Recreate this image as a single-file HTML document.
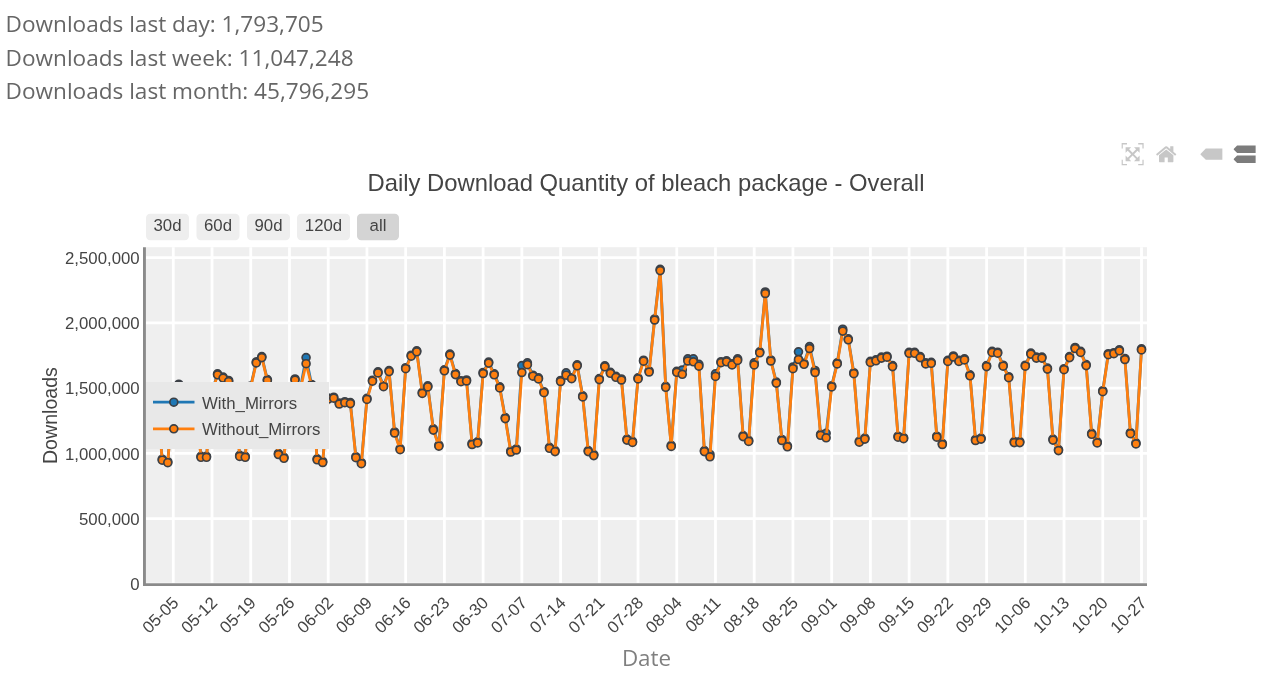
<!DOCTYPE html>
<html lang="en"><head><meta charset="utf-8"><title>Daily Download Quantity of bleach package - Overall</title>
<style>
html,body{margin:0;padding:0;background:#fff;}
body{width:1280px;height:688px;overflow:hidden;position:relative;}
svg{position:absolute;left:0;top:0;display:block;}
text{font-family:"Liberation Sans",Arial,sans-serif;fill:#444;}
.os{font-family:"Open Sans","Liberation Sans",sans-serif;}
</style></head><body>
<svg width="1280" height="688" viewBox="0 0 1280 688">
<text class="os" x="5.6" y="32.0" font-size="22.59" textLength="318.02" lengthAdjust="spacingAndGlyphs" style="fill:#666">Downloads last day: 1,793,705</text>
<text class="os" x="5.6" y="65.6" font-size="22.59" textLength="347.97" lengthAdjust="spacingAndGlyphs" style="fill:#666">Downloads last week: 11,047,248</text>
<text class="os" x="5.6" y="99.2" font-size="22.59" textLength="363.48" lengthAdjust="spacingAndGlyphs" style="fill:#666">Downloads last month: 45,796,295</text>
<rect x="146.0" y="247.2" width="1001.0" height="336.09999999999997" fill="#efefef"/>
<g stroke="#fff" stroke-width="2.8" fill="none"><path d="M173.30,247.2V583.3"/><path d="M212.03,247.2V583.3"/><path d="M250.75,247.2V583.3"/><path d="M289.48,247.2V583.3"/><path d="M328.21,247.2V583.3"/><path d="M366.94,247.2V583.3"/><path d="M405.66,247.2V583.3"/><path d="M444.39,247.2V583.3"/><path d="M483.12,247.2V583.3"/><path d="M521.85,247.2V583.3"/><path d="M560.58,247.2V583.3"/><path d="M599.30,247.2V583.3"/><path d="M638.03,247.2V583.3"/><path d="M676.76,247.2V583.3"/><path d="M715.48,247.2V583.3"/><path d="M754.21,247.2V583.3"/><path d="M792.94,247.2V583.3"/><path d="M831.67,247.2V583.3"/><path d="M870.39,247.2V583.3"/><path d="M909.12,247.2V583.3"/><path d="M947.85,247.2V583.3"/><path d="M986.58,247.2V583.3"/><path d="M1025.31,247.2V583.3"/><path d="M1064.03,247.2V583.3"/><path d="M1102.76,247.2V583.3"/><path d="M1141.49,247.2V583.3"/><path d="M146.0,518.63H1147.0"/><path d="M146.0,453.36H1147.0"/><path d="M146.0,388.09H1147.0"/><path d="M146.0,322.82H1147.0"/><path d="M146.0,257.55H1147.0"/><path d="M146.0,584.20H1147.0"/></g>
<clipPath id="pc"><rect x="146.0" y="247.2" width="1001.0" height="336.09999999999997"/></clipPath>
<g clip-path="url(#pc)"><path d="M151.17,392.50L156.70,395.50L162.24,459.20L167.77,461.70L173.30,394.50L178.83,384.20L184.37,391.50L189.90,393.50L195.43,397.50L200.96,456.30L206.50,456.30L212.03,391.50L217.56,373.80L223.09,377.10L228.62,380.50L234.16,391.50L239.69,455.40L245.22,456.30L250.75,386.00L256.29,361.90L261.82,356.60L267.35,379.60L272.88,392.50L278.42,453.50L283.95,457.30L289.48,399.50L295.01,379.00L300.55,387.50L306.08,357.60L311.61,384.50L317.14,458.80L322.68,461.50L328.21,398.00L333.74,397.20L339.27,403.00L344.81,401.70L350.34,402.60L355.87,456.70L361.40,462.70L366.94,398.40L372.47,380.20L378.00,371.90L383.53,385.70L389.07,370.60L394.60,432.00L400.13,448.70L405.66,367.70L411.20,355.20L416.73,350.80L422.26,392.40L427.79,385.90L433.33,428.90L438.86,445.20L444.39,369.80L449.93,354.10L455.46,373.60L460.99,380.70L466.52,380.00L472.06,443.50L477.59,441.90L483.12,372.50L488.65,362.10L494.19,373.80L499.72,386.90L505.25,417.60L510.78,451.00L516.32,449.00L521.85,365.60L527.38,362.90L532.91,375.20L538.44,377.90L543.98,391.70L549.51,447.30L555.04,450.60L560.58,380.50L566.11,372.90L571.64,377.70L577.17,364.80L582.70,395.90L588.24,450.60L593.77,454.60L599.30,378.60L604.84,365.80L610.37,372.30L615.90,376.30L621.43,379.00L626.96,439.10L632.50,441.40L638.03,377.90L643.56,360.20L649.10,371.00L654.63,319.00L660.16,269.30L665.69,386.30L671.22,445.40L676.76,371.30L682.29,370.00L687.82,358.90L693.36,358.90L698.89,364.30L704.42,450.60L709.95,454.50L715.48,373.90L721.02,361.70L726.55,360.80L732.08,363.90L737.62,358.90L743.15,435.60L748.68,440.40L754.21,362.90L759.74,351.80L765.28,292.00L770.81,360.00L776.34,382.10L781.88,439.50L787.41,445.80L792.94,367.00L798.47,351.80L804.00,363.30L809.54,346.60L815.07,370.50L820.60,434.30L826.13,433.30L831.67,385.90L837.20,362.90L842.73,329.20L848.26,338.80L853.80,372.70L859.33,441.20L864.86,438.10L870.39,361.40L875.93,359.80L881.46,357.10L886.99,356.20L892.53,365.60L898.06,436.20L903.59,437.70L909.12,352.30L914.65,352.30L920.19,356.60L925.72,362.90L931.25,362.30L936.79,436.20L942.32,443.50L947.85,360.40L953.38,356.00L958.91,360.40L964.45,358.90L969.98,374.80L975.51,439.50L981.05,438.10L986.58,365.60L992.11,351.40L997.64,352.20L1003.17,365.20L1008.71,376.70L1014.24,441.60L1019.77,441.60L1025.31,365.20L1030.84,353.10L1036.37,357.10L1041.90,357.10L1047.43,368.10L1052.97,439.10L1058.50,449.60L1064.03,368.70L1069.57,356.60L1075.10,347.50L1080.63,351.40L1086.16,364.60L1091.69,433.30L1097.23,441.90L1102.76,390.70L1108.29,353.70L1113.83,352.70L1119.36,349.80L1124.89,358.50L1130.42,432.70L1135.95,442.90L1141.49,348.90" fill="none" stroke="#1f77b4" stroke-width="2.8" stroke-linejoin="round"/><g fill="#1f77b4" stroke="#3c4046" stroke-width="1.7"><circle cx="151.17" cy="392.50" r="3.95"/><circle cx="156.70" cy="395.50" r="3.95"/><circle cx="162.24" cy="459.20" r="3.95"/><circle cx="167.77" cy="461.70" r="3.95"/><circle cx="173.30" cy="394.50" r="3.95"/><circle cx="178.83" cy="384.20" r="3.95"/><circle cx="184.37" cy="391.50" r="3.95"/><circle cx="189.90" cy="393.50" r="3.95"/><circle cx="195.43" cy="397.50" r="3.95"/><circle cx="200.96" cy="456.30" r="3.95"/><circle cx="206.50" cy="456.30" r="3.95"/><circle cx="212.03" cy="391.50" r="3.95"/><circle cx="217.56" cy="373.80" r="3.95"/><circle cx="223.09" cy="377.10" r="3.95"/><circle cx="228.62" cy="380.50" r="3.95"/><circle cx="234.16" cy="391.50" r="3.95"/><circle cx="239.69" cy="455.40" r="3.95"/><circle cx="245.22" cy="456.30" r="3.95"/><circle cx="250.75" cy="386.00" r="3.95"/><circle cx="256.29" cy="361.90" r="3.95"/><circle cx="261.82" cy="356.60" r="3.95"/><circle cx="267.35" cy="379.60" r="3.95"/><circle cx="272.88" cy="392.50" r="3.95"/><circle cx="278.42" cy="453.50" r="3.95"/><circle cx="283.95" cy="457.30" r="3.95"/><circle cx="289.48" cy="399.50" r="3.95"/><circle cx="295.01" cy="379.00" r="3.95"/><circle cx="300.55" cy="387.50" r="3.95"/><circle cx="306.08" cy="357.60" r="3.95"/><circle cx="311.61" cy="384.50" r="3.95"/><circle cx="317.14" cy="458.80" r="3.95"/><circle cx="322.68" cy="461.50" r="3.95"/><circle cx="328.21" cy="398.00" r="3.95"/><circle cx="333.74" cy="397.20" r="3.95"/><circle cx="339.27" cy="403.00" r="3.95"/><circle cx="344.81" cy="401.70" r="3.95"/><circle cx="350.34" cy="402.60" r="3.95"/><circle cx="355.87" cy="456.70" r="3.95"/><circle cx="361.40" cy="462.70" r="3.95"/><circle cx="366.94" cy="398.40" r="3.95"/><circle cx="372.47" cy="380.20" r="3.95"/><circle cx="378.00" cy="371.90" r="3.95"/><circle cx="383.53" cy="385.70" r="3.95"/><circle cx="389.07" cy="370.60" r="3.95"/><circle cx="394.60" cy="432.00" r="3.95"/><circle cx="400.13" cy="448.70" r="3.95"/><circle cx="405.66" cy="367.70" r="3.95"/><circle cx="411.20" cy="355.20" r="3.95"/><circle cx="416.73" cy="350.80" r="3.95"/><circle cx="422.26" cy="392.40" r="3.95"/><circle cx="427.79" cy="385.90" r="3.95"/><circle cx="433.33" cy="428.90" r="3.95"/><circle cx="438.86" cy="445.20" r="3.95"/><circle cx="444.39" cy="369.80" r="3.95"/><circle cx="449.93" cy="354.10" r="3.95"/><circle cx="455.46" cy="373.60" r="3.95"/><circle cx="460.99" cy="380.70" r="3.95"/><circle cx="466.52" cy="380.00" r="3.95"/><circle cx="472.06" cy="443.50" r="3.95"/><circle cx="477.59" cy="441.90" r="3.95"/><circle cx="483.12" cy="372.50" r="3.95"/><circle cx="488.65" cy="362.10" r="3.95"/><circle cx="494.19" cy="373.80" r="3.95"/><circle cx="499.72" cy="386.90" r="3.95"/><circle cx="505.25" cy="417.60" r="3.95"/><circle cx="510.78" cy="451.00" r="3.95"/><circle cx="516.32" cy="449.00" r="3.95"/><circle cx="521.85" cy="365.60" r="3.95"/><circle cx="527.38" cy="362.90" r="3.95"/><circle cx="532.91" cy="375.20" r="3.95"/><circle cx="538.44" cy="377.90" r="3.95"/><circle cx="543.98" cy="391.70" r="3.95"/><circle cx="549.51" cy="447.30" r="3.95"/><circle cx="555.04" cy="450.60" r="3.95"/><circle cx="560.58" cy="380.50" r="3.95"/><circle cx="566.11" cy="372.90" r="3.95"/><circle cx="571.64" cy="377.70" r="3.95"/><circle cx="577.17" cy="364.80" r="3.95"/><circle cx="582.70" cy="395.90" r="3.95"/><circle cx="588.24" cy="450.60" r="3.95"/><circle cx="593.77" cy="454.60" r="3.95"/><circle cx="599.30" cy="378.60" r="3.95"/><circle cx="604.84" cy="365.80" r="3.95"/><circle cx="610.37" cy="372.30" r="3.95"/><circle cx="615.90" cy="376.30" r="3.95"/><circle cx="621.43" cy="379.00" r="3.95"/><circle cx="626.96" cy="439.10" r="3.95"/><circle cx="632.50" cy="441.40" r="3.95"/><circle cx="638.03" cy="377.90" r="3.95"/><circle cx="643.56" cy="360.20" r="3.95"/><circle cx="649.10" cy="371.00" r="3.95"/><circle cx="654.63" cy="319.00" r="3.95"/><circle cx="660.16" cy="269.30" r="3.95"/><circle cx="665.69" cy="386.30" r="3.95"/><circle cx="671.22" cy="445.40" r="3.95"/><circle cx="676.76" cy="371.30" r="3.95"/><circle cx="682.29" cy="370.00" r="3.95"/><circle cx="687.82" cy="358.90" r="3.95"/><circle cx="693.36" cy="358.90" r="3.95"/><circle cx="698.89" cy="364.30" r="3.95"/><circle cx="704.42" cy="450.60" r="3.95"/><circle cx="709.95" cy="454.50" r="3.95"/><circle cx="715.48" cy="373.90" r="3.95"/><circle cx="721.02" cy="361.70" r="3.95"/><circle cx="726.55" cy="360.80" r="3.95"/><circle cx="732.08" cy="363.90" r="3.95"/><circle cx="737.62" cy="358.90" r="3.95"/><circle cx="743.15" cy="435.60" r="3.95"/><circle cx="748.68" cy="440.40" r="3.95"/><circle cx="754.21" cy="362.90" r="3.95"/><circle cx="759.74" cy="351.80" r="3.95"/><circle cx="765.28" cy="292.00" r="3.95"/><circle cx="770.81" cy="360.00" r="3.95"/><circle cx="776.34" cy="382.10" r="3.95"/><circle cx="781.88" cy="439.50" r="3.95"/><circle cx="787.41" cy="445.80" r="3.95"/><circle cx="792.94" cy="367.00" r="3.95"/><circle cx="798.47" cy="351.80" r="3.95"/><circle cx="804.00" cy="363.30" r="3.95"/><circle cx="809.54" cy="346.60" r="3.95"/><circle cx="815.07" cy="370.50" r="3.95"/><circle cx="820.60" cy="434.30" r="3.95"/><circle cx="826.13" cy="433.30" r="3.95"/><circle cx="831.67" cy="385.90" r="3.95"/><circle cx="837.20" cy="362.90" r="3.95"/><circle cx="842.73" cy="329.20" r="3.95"/><circle cx="848.26" cy="338.80" r="3.95"/><circle cx="853.80" cy="372.70" r="3.95"/><circle cx="859.33" cy="441.20" r="3.95"/><circle cx="864.86" cy="438.10" r="3.95"/><circle cx="870.39" cy="361.40" r="3.95"/><circle cx="875.93" cy="359.80" r="3.95"/><circle cx="881.46" cy="357.10" r="3.95"/><circle cx="886.99" cy="356.20" r="3.95"/><circle cx="892.53" cy="365.60" r="3.95"/><circle cx="898.06" cy="436.20" r="3.95"/><circle cx="903.59" cy="437.70" r="3.95"/><circle cx="909.12" cy="352.30" r="3.95"/><circle cx="914.65" cy="352.30" r="3.95"/><circle cx="920.19" cy="356.60" r="3.95"/><circle cx="925.72" cy="362.90" r="3.95"/><circle cx="931.25" cy="362.30" r="3.95"/><circle cx="936.79" cy="436.20" r="3.95"/><circle cx="942.32" cy="443.50" r="3.95"/><circle cx="947.85" cy="360.40" r="3.95"/><circle cx="953.38" cy="356.00" r="3.95"/><circle cx="958.91" cy="360.40" r="3.95"/><circle cx="964.45" cy="358.90" r="3.95"/><circle cx="969.98" cy="374.80" r="3.95"/><circle cx="975.51" cy="439.50" r="3.95"/><circle cx="981.05" cy="438.10" r="3.95"/><circle cx="986.58" cy="365.60" r="3.95"/><circle cx="992.11" cy="351.40" r="3.95"/><circle cx="997.64" cy="352.20" r="3.95"/><circle cx="1003.17" cy="365.20" r="3.95"/><circle cx="1008.71" cy="376.70" r="3.95"/><circle cx="1014.24" cy="441.60" r="3.95"/><circle cx="1019.77" cy="441.60" r="3.95"/><circle cx="1025.31" cy="365.20" r="3.95"/><circle cx="1030.84" cy="353.10" r="3.95"/><circle cx="1036.37" cy="357.10" r="3.95"/><circle cx="1041.90" cy="357.10" r="3.95"/><circle cx="1047.43" cy="368.10" r="3.95"/><circle cx="1052.97" cy="439.10" r="3.95"/><circle cx="1058.50" cy="449.60" r="3.95"/><circle cx="1064.03" cy="368.70" r="3.95"/><circle cx="1069.57" cy="356.60" r="3.95"/><circle cx="1075.10" cy="347.50" r="3.95"/><circle cx="1080.63" cy="351.40" r="3.95"/><circle cx="1086.16" cy="364.60" r="3.95"/><circle cx="1091.69" cy="433.30" r="3.95"/><circle cx="1097.23" cy="441.90" r="3.95"/><circle cx="1102.76" cy="390.70" r="3.95"/><circle cx="1108.29" cy="353.70" r="3.95"/><circle cx="1113.83" cy="352.70" r="3.95"/><circle cx="1119.36" cy="349.80" r="3.95"/><circle cx="1124.89" cy="358.50" r="3.95"/><circle cx="1130.42" cy="432.70" r="3.95"/><circle cx="1135.95" cy="442.90" r="3.95"/><circle cx="1141.49" cy="348.90" r="3.95"/></g><path d="M151.17,393.50L156.70,396.50L162.24,460.20L167.77,462.70L173.30,395.50L178.83,385.20L184.37,392.50L189.90,394.50L195.43,398.50L200.96,457.30L206.50,457.30L212.03,392.50L217.56,374.80L223.09,378.10L228.62,381.50L234.16,392.50L239.69,456.40L245.22,457.30L250.75,387.00L256.29,362.90L261.82,357.60L267.35,380.60L272.88,393.50L278.42,454.50L283.95,458.30L289.48,400.50L295.01,380.00L300.55,388.50L306.08,363.70L311.61,385.50L317.14,459.80L322.68,462.50L328.21,399.00L333.74,398.20L339.27,404.00L344.81,402.70L350.34,403.60L355.87,457.70L361.40,463.70L366.94,399.40L372.47,381.20L378.00,372.90L383.53,386.70L389.07,371.60L394.60,433.00L400.13,449.70L405.66,368.70L411.20,356.20L416.73,351.80L422.26,393.40L427.79,386.90L433.33,430.10L438.86,446.20L444.39,370.80L449.93,355.10L455.46,374.60L460.99,381.70L466.52,381.00L472.06,444.50L477.59,442.90L483.12,373.50L488.65,363.10L494.19,374.80L499.72,387.90L505.25,418.60L510.78,452.00L516.32,450.00L521.85,372.50L527.38,364.70L532.91,376.20L538.44,378.90L543.98,392.70L549.51,448.30L555.04,451.60L560.58,381.50L566.11,375.20L571.64,378.70L577.17,365.80L582.70,396.90L588.24,451.60L593.77,455.60L599.30,379.60L604.84,366.80L610.37,373.30L615.90,377.30L621.43,380.00L626.96,440.10L632.50,442.40L638.03,378.90L643.56,361.20L649.10,372.00L654.63,320.00L660.16,270.60L665.69,387.30L671.22,446.40L676.76,372.30L682.29,374.30L687.82,361.00L693.36,361.80L698.89,366.20L704.42,451.60L709.95,456.80L715.48,376.40L721.02,362.70L726.55,361.80L732.08,364.90L737.62,360.40L743.15,436.60L748.68,441.40L754.21,364.90L759.74,352.80L765.28,293.50L770.81,361.00L776.34,383.10L781.88,440.50L787.41,446.80L792.94,368.70L798.47,359.50L804.00,364.30L809.54,348.50L815.07,372.50L820.60,435.30L826.13,437.80L831.67,386.90L837.20,363.90L842.73,331.10L848.26,339.80L853.80,373.70L859.33,442.20L864.86,439.10L870.39,362.40L875.93,360.80L881.46,358.10L886.99,357.20L892.53,366.60L898.06,437.20L903.59,438.70L909.12,353.30L914.65,353.30L920.19,357.60L925.72,363.90L931.25,363.30L936.79,437.20L942.32,444.50L947.85,361.40L953.38,357.00L958.91,361.40L964.45,359.90L969.98,375.80L975.51,440.50L981.05,439.10L986.58,366.60L992.11,352.40L997.64,353.20L1003.17,366.20L1008.71,377.70L1014.24,442.60L1019.77,442.60L1025.31,366.20L1030.84,354.10L1036.37,358.10L1041.90,358.10L1047.43,369.10L1052.97,440.10L1058.50,450.60L1064.03,369.70L1069.57,357.60L1075.10,348.50L1080.63,352.40L1086.16,365.60L1091.69,434.30L1097.23,442.90L1102.76,391.70L1108.29,354.70L1113.83,353.70L1119.36,350.80L1124.89,359.50L1130.42,433.70L1135.95,443.90L1141.49,349.90" fill="none" stroke="#ff7f0e" stroke-width="2.8" stroke-linejoin="round"/><g fill="#ff7f0e" stroke="#3c4046" stroke-width="1.7"><circle cx="151.17" cy="393.50" r="3.95"/><circle cx="156.70" cy="396.50" r="3.95"/><circle cx="162.24" cy="460.20" r="3.95"/><circle cx="167.77" cy="462.70" r="3.95"/><circle cx="173.30" cy="395.50" r="3.95"/><circle cx="178.83" cy="385.20" r="3.95"/><circle cx="184.37" cy="392.50" r="3.95"/><circle cx="189.90" cy="394.50" r="3.95"/><circle cx="195.43" cy="398.50" r="3.95"/><circle cx="200.96" cy="457.30" r="3.95"/><circle cx="206.50" cy="457.30" r="3.95"/><circle cx="212.03" cy="392.50" r="3.95"/><circle cx="217.56" cy="374.80" r="3.95"/><circle cx="223.09" cy="378.10" r="3.95"/><circle cx="228.62" cy="381.50" r="3.95"/><circle cx="234.16" cy="392.50" r="3.95"/><circle cx="239.69" cy="456.40" r="3.95"/><circle cx="245.22" cy="457.30" r="3.95"/><circle cx="250.75" cy="387.00" r="3.95"/><circle cx="256.29" cy="362.90" r="3.95"/><circle cx="261.82" cy="357.60" r="3.95"/><circle cx="267.35" cy="380.60" r="3.95"/><circle cx="272.88" cy="393.50" r="3.95"/><circle cx="278.42" cy="454.50" r="3.95"/><circle cx="283.95" cy="458.30" r="3.95"/><circle cx="289.48" cy="400.50" r="3.95"/><circle cx="295.01" cy="380.00" r="3.95"/><circle cx="300.55" cy="388.50" r="3.95"/><circle cx="306.08" cy="363.70" r="3.95"/><circle cx="311.61" cy="385.50" r="3.95"/><circle cx="317.14" cy="459.80" r="3.95"/><circle cx="322.68" cy="462.50" r="3.95"/><circle cx="328.21" cy="399.00" r="3.95"/><circle cx="333.74" cy="398.20" r="3.95"/><circle cx="339.27" cy="404.00" r="3.95"/><circle cx="344.81" cy="402.70" r="3.95"/><circle cx="350.34" cy="403.60" r="3.95"/><circle cx="355.87" cy="457.70" r="3.95"/><circle cx="361.40" cy="463.70" r="3.95"/><circle cx="366.94" cy="399.40" r="3.95"/><circle cx="372.47" cy="381.20" r="3.95"/><circle cx="378.00" cy="372.90" r="3.95"/><circle cx="383.53" cy="386.70" r="3.95"/><circle cx="389.07" cy="371.60" r="3.95"/><circle cx="394.60" cy="433.00" r="3.95"/><circle cx="400.13" cy="449.70" r="3.95"/><circle cx="405.66" cy="368.70" r="3.95"/><circle cx="411.20" cy="356.20" r="3.95"/><circle cx="416.73" cy="351.80" r="3.95"/><circle cx="422.26" cy="393.40" r="3.95"/><circle cx="427.79" cy="386.90" r="3.95"/><circle cx="433.33" cy="430.10" r="3.95"/><circle cx="438.86" cy="446.20" r="3.95"/><circle cx="444.39" cy="370.80" r="3.95"/><circle cx="449.93" cy="355.10" r="3.95"/><circle cx="455.46" cy="374.60" r="3.95"/><circle cx="460.99" cy="381.70" r="3.95"/><circle cx="466.52" cy="381.00" r="3.95"/><circle cx="472.06" cy="444.50" r="3.95"/><circle cx="477.59" cy="442.90" r="3.95"/><circle cx="483.12" cy="373.50" r="3.95"/><circle cx="488.65" cy="363.10" r="3.95"/><circle cx="494.19" cy="374.80" r="3.95"/><circle cx="499.72" cy="387.90" r="3.95"/><circle cx="505.25" cy="418.60" r="3.95"/><circle cx="510.78" cy="452.00" r="3.95"/><circle cx="516.32" cy="450.00" r="3.95"/><circle cx="521.85" cy="372.50" r="3.95"/><circle cx="527.38" cy="364.70" r="3.95"/><circle cx="532.91" cy="376.20" r="3.95"/><circle cx="538.44" cy="378.90" r="3.95"/><circle cx="543.98" cy="392.70" r="3.95"/><circle cx="549.51" cy="448.30" r="3.95"/><circle cx="555.04" cy="451.60" r="3.95"/><circle cx="560.58" cy="381.50" r="3.95"/><circle cx="566.11" cy="375.20" r="3.95"/><circle cx="571.64" cy="378.70" r="3.95"/><circle cx="577.17" cy="365.80" r="3.95"/><circle cx="582.70" cy="396.90" r="3.95"/><circle cx="588.24" cy="451.60" r="3.95"/><circle cx="593.77" cy="455.60" r="3.95"/><circle cx="599.30" cy="379.60" r="3.95"/><circle cx="604.84" cy="366.80" r="3.95"/><circle cx="610.37" cy="373.30" r="3.95"/><circle cx="615.90" cy="377.30" r="3.95"/><circle cx="621.43" cy="380.00" r="3.95"/><circle cx="626.96" cy="440.10" r="3.95"/><circle cx="632.50" cy="442.40" r="3.95"/><circle cx="638.03" cy="378.90" r="3.95"/><circle cx="643.56" cy="361.20" r="3.95"/><circle cx="649.10" cy="372.00" r="3.95"/><circle cx="654.63" cy="320.00" r="3.95"/><circle cx="660.16" cy="270.60" r="3.95"/><circle cx="665.69" cy="387.30" r="3.95"/><circle cx="671.22" cy="446.40" r="3.95"/><circle cx="676.76" cy="372.30" r="3.95"/><circle cx="682.29" cy="374.30" r="3.95"/><circle cx="687.82" cy="361.00" r="3.95"/><circle cx="693.36" cy="361.80" r="3.95"/><circle cx="698.89" cy="366.20" r="3.95"/><circle cx="704.42" cy="451.60" r="3.95"/><circle cx="709.95" cy="456.80" r="3.95"/><circle cx="715.48" cy="376.40" r="3.95"/><circle cx="721.02" cy="362.70" r="3.95"/><circle cx="726.55" cy="361.80" r="3.95"/><circle cx="732.08" cy="364.90" r="3.95"/><circle cx="737.62" cy="360.40" r="3.95"/><circle cx="743.15" cy="436.60" r="3.95"/><circle cx="748.68" cy="441.40" r="3.95"/><circle cx="754.21" cy="364.90" r="3.95"/><circle cx="759.74" cy="352.80" r="3.95"/><circle cx="765.28" cy="293.50" r="3.95"/><circle cx="770.81" cy="361.00" r="3.95"/><circle cx="776.34" cy="383.10" r="3.95"/><circle cx="781.88" cy="440.50" r="3.95"/><circle cx="787.41" cy="446.80" r="3.95"/><circle cx="792.94" cy="368.70" r="3.95"/><circle cx="798.47" cy="359.50" r="3.95"/><circle cx="804.00" cy="364.30" r="3.95"/><circle cx="809.54" cy="348.50" r="3.95"/><circle cx="815.07" cy="372.50" r="3.95"/><circle cx="820.60" cy="435.30" r="3.95"/><circle cx="826.13" cy="437.80" r="3.95"/><circle cx="831.67" cy="386.90" r="3.95"/><circle cx="837.20" cy="363.90" r="3.95"/><circle cx="842.73" cy="331.10" r="3.95"/><circle cx="848.26" cy="339.80" r="3.95"/><circle cx="853.80" cy="373.70" r="3.95"/><circle cx="859.33" cy="442.20" r="3.95"/><circle cx="864.86" cy="439.10" r="3.95"/><circle cx="870.39" cy="362.40" r="3.95"/><circle cx="875.93" cy="360.80" r="3.95"/><circle cx="881.46" cy="358.10" r="3.95"/><circle cx="886.99" cy="357.20" r="3.95"/><circle cx="892.53" cy="366.60" r="3.95"/><circle cx="898.06" cy="437.20" r="3.95"/><circle cx="903.59" cy="438.70" r="3.95"/><circle cx="909.12" cy="353.30" r="3.95"/><circle cx="914.65" cy="353.30" r="3.95"/><circle cx="920.19" cy="357.60" r="3.95"/><circle cx="925.72" cy="363.90" r="3.95"/><circle cx="931.25" cy="363.30" r="3.95"/><circle cx="936.79" cy="437.20" r="3.95"/><circle cx="942.32" cy="444.50" r="3.95"/><circle cx="947.85" cy="361.40" r="3.95"/><circle cx="953.38" cy="357.00" r="3.95"/><circle cx="958.91" cy="361.40" r="3.95"/><circle cx="964.45" cy="359.90" r="3.95"/><circle cx="969.98" cy="375.80" r="3.95"/><circle cx="975.51" cy="440.50" r="3.95"/><circle cx="981.05" cy="439.10" r="3.95"/><circle cx="986.58" cy="366.60" r="3.95"/><circle cx="992.11" cy="352.40" r="3.95"/><circle cx="997.64" cy="353.20" r="3.95"/><circle cx="1003.17" cy="366.20" r="3.95"/><circle cx="1008.71" cy="377.70" r="3.95"/><circle cx="1014.24" cy="442.60" r="3.95"/><circle cx="1019.77" cy="442.60" r="3.95"/><circle cx="1025.31" cy="366.20" r="3.95"/><circle cx="1030.84" cy="354.10" r="3.95"/><circle cx="1036.37" cy="358.10" r="3.95"/><circle cx="1041.90" cy="358.10" r="3.95"/><circle cx="1047.43" cy="369.10" r="3.95"/><circle cx="1052.97" cy="440.10" r="3.95"/><circle cx="1058.50" cy="450.60" r="3.95"/><circle cx="1064.03" cy="369.70" r="3.95"/><circle cx="1069.57" cy="357.60" r="3.95"/><circle cx="1075.10" cy="348.50" r="3.95"/><circle cx="1080.63" cy="352.40" r="3.95"/><circle cx="1086.16" cy="365.60" r="3.95"/><circle cx="1091.69" cy="434.30" r="3.95"/><circle cx="1097.23" cy="442.90" r="3.95"/><circle cx="1102.76" cy="391.70" r="3.95"/><circle cx="1108.29" cy="354.70" r="3.95"/><circle cx="1113.83" cy="353.70" r="3.95"/><circle cx="1119.36" cy="350.80" r="3.95"/><circle cx="1124.89" cy="359.50" r="3.95"/><circle cx="1130.42" cy="433.70" r="3.95"/><circle cx="1135.95" cy="443.90" r="3.95"/><circle cx="1141.49" cy="349.90" r="3.95"/></g></g>
<path d="M144.45,247.2V586.10" stroke="#8a8a8a" stroke-width="2.9" fill="none"/><path d="M143,584.70H1147.0" stroke="#8a8a8a" stroke-width="2.8" fill="none"/>
<text x="139.7" y="590.20" text-anchor="end" font-size="16.8">0</text><text x="139.7" y="524.93" text-anchor="end" font-size="16.8">500,000</text><text x="139.7" y="459.66" text-anchor="end" font-size="16.8">1,000,000</text><text x="139.7" y="394.39" text-anchor="end" font-size="16.8">1,500,000</text><text x="139.7" y="329.12" text-anchor="end" font-size="16.8">2,000,000</text><text x="139.7" y="263.85" text-anchor="end" font-size="16.8">2,500,000</text>
<text transform="translate(179.50,603.80) rotate(-45)" x="0" y="0" text-anchor="end" font-size="16.8">05-05</text><text transform="translate(218.23,603.80) rotate(-45)" x="0" y="0" text-anchor="end" font-size="16.8">05-12</text><text transform="translate(256.95,603.80) rotate(-45)" x="0" y="0" text-anchor="end" font-size="16.8">05-19</text><text transform="translate(295.68,603.80) rotate(-45)" x="0" y="0" text-anchor="end" font-size="16.8">05-26</text><text transform="translate(334.41,603.80) rotate(-45)" x="0" y="0" text-anchor="end" font-size="16.8">06-02</text><text transform="translate(373.14,603.80) rotate(-45)" x="0" y="0" text-anchor="end" font-size="16.8">06-09</text><text transform="translate(411.86,603.80) rotate(-45)" x="0" y="0" text-anchor="end" font-size="16.8">06-16</text><text transform="translate(450.59,603.80) rotate(-45)" x="0" y="0" text-anchor="end" font-size="16.8">06-23</text><text transform="translate(489.32,603.80) rotate(-45)" x="0" y="0" text-anchor="end" font-size="16.8">06-30</text><text transform="translate(528.05,603.80) rotate(-45)" x="0" y="0" text-anchor="end" font-size="16.8">07-07</text><text transform="translate(566.78,603.80) rotate(-45)" x="0" y="0" text-anchor="end" font-size="16.8">07-14</text><text transform="translate(605.50,603.80) rotate(-45)" x="0" y="0" text-anchor="end" font-size="16.8">07-21</text><text transform="translate(644.23,603.80) rotate(-45)" x="0" y="0" text-anchor="end" font-size="16.8">07-28</text><text transform="translate(682.96,603.80) rotate(-45)" x="0" y="0" text-anchor="end" font-size="16.8">08-04</text><text transform="translate(721.68,603.80) rotate(-45)" x="0" y="0" text-anchor="end" font-size="16.8">08-11</text><text transform="translate(760.41,603.80) rotate(-45)" x="0" y="0" text-anchor="end" font-size="16.8">08-18</text><text transform="translate(799.14,603.80) rotate(-45)" x="0" y="0" text-anchor="end" font-size="16.8">08-25</text><text transform="translate(837.87,603.80) rotate(-45)" x="0" y="0" text-anchor="end" font-size="16.8">09-01</text><text transform="translate(876.60,603.80) rotate(-45)" x="0" y="0" text-anchor="end" font-size="16.8">09-08</text><text transform="translate(915.32,603.80) rotate(-45)" x="0" y="0" text-anchor="end" font-size="16.8">09-15</text><text transform="translate(954.05,603.80) rotate(-45)" x="0" y="0" text-anchor="end" font-size="16.8">09-22</text><text transform="translate(992.78,603.80) rotate(-45)" x="0" y="0" text-anchor="end" font-size="16.8">09-29</text><text transform="translate(1031.51,603.80) rotate(-45)" x="0" y="0" text-anchor="end" font-size="16.8">10-06</text><text transform="translate(1070.23,603.80) rotate(-45)" x="0" y="0" text-anchor="end" font-size="16.8">10-13</text><text transform="translate(1108.96,603.80) rotate(-45)" x="0" y="0" text-anchor="end" font-size="16.8">10-20</text><text transform="translate(1147.69,603.80) rotate(-45)" x="0" y="0" text-anchor="end" font-size="16.8">10-27</text>
<text x="646.0" y="191.4" text-anchor="middle" font-size="23.8">Daily Download Quantity of bleach package - Overall</text>
<text transform="translate(57.3,415.6) rotate(-90)" text-anchor="middle" font-size="19.6">Downloads</text>
<text class="os" x="646.5" y="666" text-anchor="middle" font-size="22.4" textLength="49.25" lengthAdjust="spacingAndGlyphs" style="fill:#7f7f7f">Date</text>
<rect x="146" y="213.8" width="43" height="26.4" rx="4.2" fill="#eee"/><text x="167.5" y="230.8" text-anchor="middle" font-size="16.8">30d</text><rect x="196.5" y="213.8" width="43" height="26.4" rx="4.2" fill="#eee"/><text x="218.0" y="230.8" text-anchor="middle" font-size="16.8">60d</text><rect x="247" y="213.8" width="43" height="26.4" rx="4.2" fill="#eee"/><text x="268.5" y="230.8" text-anchor="middle" font-size="16.8">90d</text><rect x="297" y="213.8" width="53" height="26.4" rx="4.2" fill="#eee"/><text x="323.5" y="230.8" text-anchor="middle" font-size="16.8">120d</text><rect x="357" y="213.8" width="42" height="26.4" rx="4.2" fill="#d4d4d4"/><text x="378.0" y="230.8" text-anchor="middle" font-size="16.8">all</text>
<rect x="146" y="382" width="183" height="67" fill="#e8e8e8"/><path d="M153,402.2H194.5" stroke="#1f77b4" stroke-width="2.8"/><circle cx="173.8" cy="402.2" r="3.95" fill="#1f77b4" stroke="#3c4046" stroke-width="1.7"/><text x="202" y="408.7" font-size="16.8">With_Mirrors</text><path d="M153,428.8H194.5" stroke="#ff7f0e" stroke-width="2.8"/><circle cx="173.8" cy="428.8" r="3.95" fill="#ff7f0e" stroke="#3c4046" stroke-width="1.7"/><text x="202" y="435.3" font-size="16.8">Without_Mirrors</text>
<svg x="1121.4" y="143" width="22.4" height="22.4" viewBox="0 0 1000 1000" style="position:static"><path d="m250 850l-187 0-63 0 0-62 0-188 63 0 0 188 187 0 0 62z m688 0l-188 0 0-62 188 0 0-188 62 0 0 188 0 62-62 0z m-875-938l0 188-63 0 0-188 0-62 63 0 187 0 0 62-187 0z m875 188l0-188-188 0 0-62 188 0 62 0 0 62 0 188-62 0z m-125 188l-1 0-93-94-156 156 156 156 92-93 2 0 0 250-250 0 0-2 93-92-156-156-156 156 94 92 0 2-250 0 0-250 0 0 93 93 157-156-157-156-93 94 0 0 0-250 250 0 0 0-94 93 156 157 156-157-93-93 0 0 250 0 0 250z" transform="matrix(1 0 0 -1 0 850)" fill="rgba(68,68,68,0.3)"/></svg><svg x="1155.0" y="143" width="22.4" height="22.4" viewBox="0 0 928.6 1000" style="position:static"><path d="m786 296v-267q0-15-11-26t-25-10h-214v214h-143v-214h-214q-15 0-25 10t-11 26v267q0 1 0 2t0 2l321 264 321-264q1-1 1-4z m124 39l-34-41q-5-5-12-6h-2q-7 0-12 3l-386 322-386-322q-7-4-13-4-7 2-12 7l-35 41q-4 5-3 13t6 12l401 334q18 15 42 15t43-15l136-114v109q0 8 5 13t13 5h107q8 0 13-5t5-13v-227l122-102q5-5 6-12t-4-13z" transform="matrix(1 0 0 -1 0 850)" fill="rgba(68,68,68,0.3)"/></svg><svg x="1200.2" y="143" width="22.4" height="22.4" viewBox="0 0 1500 1000" style="position:static"><path d="m375 725l0 0-375-375 375-374 0-1 1125 0 0 750-1125 0z" transform="matrix(1 0 0 -1 0 850)" fill="rgba(68,68,68,0.3)"/></svg><svg x="1233.4" y="143" width="22.4" height="22.4" viewBox="0 0 1125 1000" style="position:static"><path d="m187 786l0 2-187-188 188-187 0 0 937 0 0 373-938 0z m0-499l0 1-187-188 188-188 0 0 937 0 0 376-938-1z" transform="matrix(1 0 0 -1 0 850)" fill="rgba(68,68,68,0.7)"/></svg>
</svg>
</body></html>
